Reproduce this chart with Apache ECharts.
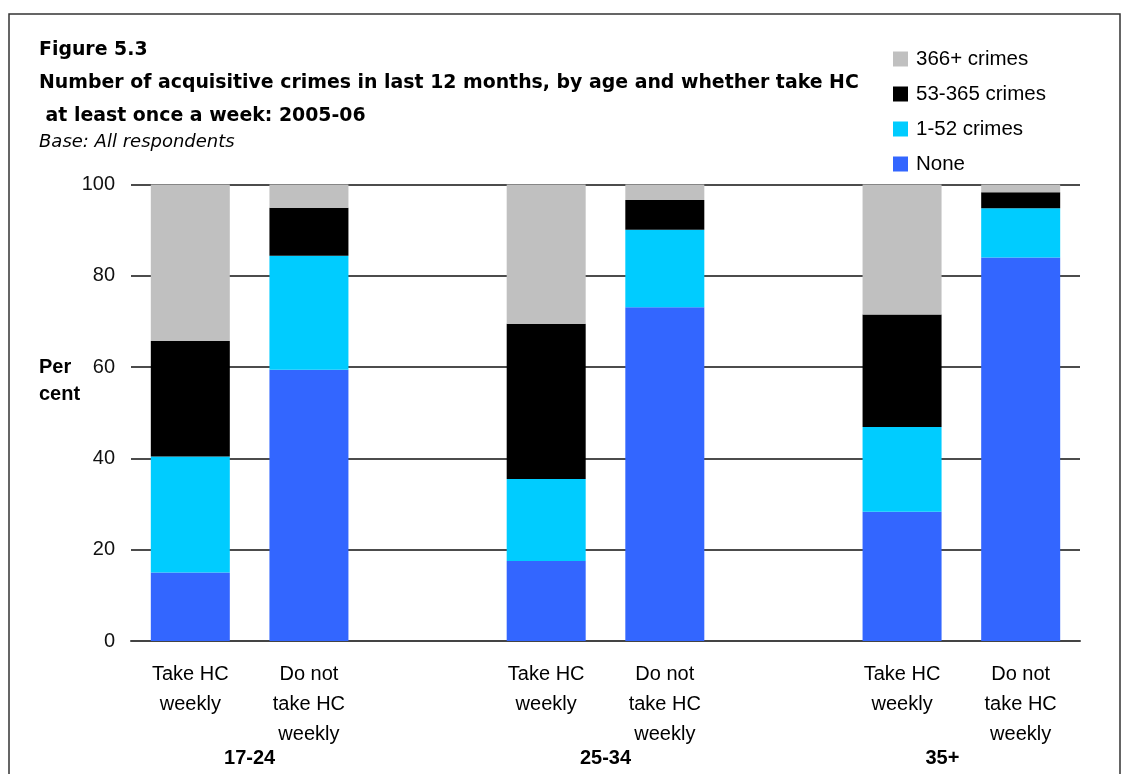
<!DOCTYPE html>
<html><head><meta charset="utf-8">
<script src="https://cdn.jsdelivr.net/npm/echarts@6/dist/echarts.min.js"></script>
<style>html,body{margin:0;padding:0;background:#fff}#c{width:1123px;height:774px}</style>
</head><body><div id="c"></div>
<script>
const categories = ['Take HC\nweekly', 'Do not\ntake HC\nweekly', '', 'Take HC\nweekly', 'Do not\ntake HC\nweekly', '', 'Take HC\nweekly', 'Do not\ntake HC\nweekly'];
const groups = ['17-24', '25-34', '35+'];
const groupPositions = [1, 4, 7];
const seriesNames = ['None', '1-52 crimes', '53-365 crimes', '366+ crimes'];
const noneVals   = [15.0, 59.4, '-', 17.5, 73.1, '-', 28.3, 84.0];
const low = [25.4, 25.0, '-', 18.0, 17.0, '-', 18.6, 10.8];
const mid = [25.3, 10.5, '-', 34.0, 6.5, '-', 24.6, 3.5];
const high = [34.3, 5.1, '-', 30.5, 3.4, '-', 28.5, 1.7];
const yTicks = [0, 20, 40, 60, 80, 100];
const colors = ['#3366FF', '#00CCFF', '#000000', '#C0C0C0'];

const FONT = 'Liberation Sans';
const TFONT = 'DejaVu Sans';
const chart = echarts.init(document.getElementById('c'), null, {renderer: 'canvas'});
const vals = [noneVals, low, mid, high];
chart.setOption({
  animation: false,
  textStyle: {fontFamily: FONT},
  title: {
    left: 39, top: 34, padding: 0,
    text: 'Figure 5.3\nNumber of acquisitive crimes in last 12 months, by age and whether take HC\n at least once a week: 2005-06',
    textStyle: {fontFamily: TFONT, fontWeight: 'bold', fontSize: 18.9, lineHeight: 33, color: '#000'},
    subtext: 'Base: All respondents',
    subtextStyle: {fontFamily: TFONT, fontStyle: 'italic', fontSize: 18, lineHeight: 21, color: '#000'},
    itemGap: -1
  },
  legend: {
    orient: 'vertical', left: 893, top: 48.5, padding: 0,
    itemWidth: 15, itemHeight: 15, itemGap: 14,
    data: [seriesNames[3], seriesNames[2], seriesNames[1], seriesNames[0]],
    textStyle: {fontFamily: FONT, fontSize: 20.5, color: '#000', padding: [0,0,0,3]},
    icon: 'rect'
  },
  grid: {left: 131, right: 43, top: 184.5, bottom: 133, containLabel: false},
  xAxis: [{
    type: 'category', data: categories, position: 'bottom',
    axisLine: {lineStyle: {color: '#444', width: 2}},
    axisTick: {show: false},
    axisLabel: {interval: 0, fontFamily: FONT, fontSize: 20, color: '#000', lineHeight: 30, margin: 18}
  }, {
    type: 'value', min: 0, max: 8, interval: 1, position: 'bottom', offset: 0,
    axisLine: {show: false}, axisTick: {show: false}, splitLine: {show: false},
    axisLabel: {
      margin: 107, fontFamily: FONT, fontSize: 20, fontWeight: 'bold', color: '#000',
      formatter: v => { const i = groupPositions.indexOf(v); return i < 0 ? '' : (i === 2 ? '{p|' + groups[i] + '}' : groups[i]); },
      rich: {p: {fontFamily: FONT, fontSize: 20, fontWeight: 'bold', color: '#000', padding: [0, 38, 0, 0]}}
    }
  }],
  yAxis: {
    type: 'value', min: 0, max: 100, interval: 20,
    axisLine: {show: false}, axisTick: {show: false},
    splitLine: {lineStyle: {color: '#111', width: 1.5}},
    axisLabel: {fontFamily: FONT, fontSize: 20, color: '#111', margin: 16,
      formatter: v => yTicks.includes(v) ? String(v) : ''}
  },
  graphic: [
    {type: 'rect', shape: {x: 9, y: 14, width: 1111, height: 800}, style: {fill: 'none', stroke: '#333', lineWidth: 1.5}, silent: true},
    {type: 'text', left: 39, top: 354, style: {text: 'Per\ncent', font: 'bold 20px "Liberation Sans"', lineHeight: 27, fill: '#000'}}
  ],
  series: seriesNames.map((n, i) => ({
    name: n, type: 'bar', stack: 'total', data: vals[i], barWidth: 79,
    itemStyle: {color: colors[i]}
  }))
});
</script></body></html>
